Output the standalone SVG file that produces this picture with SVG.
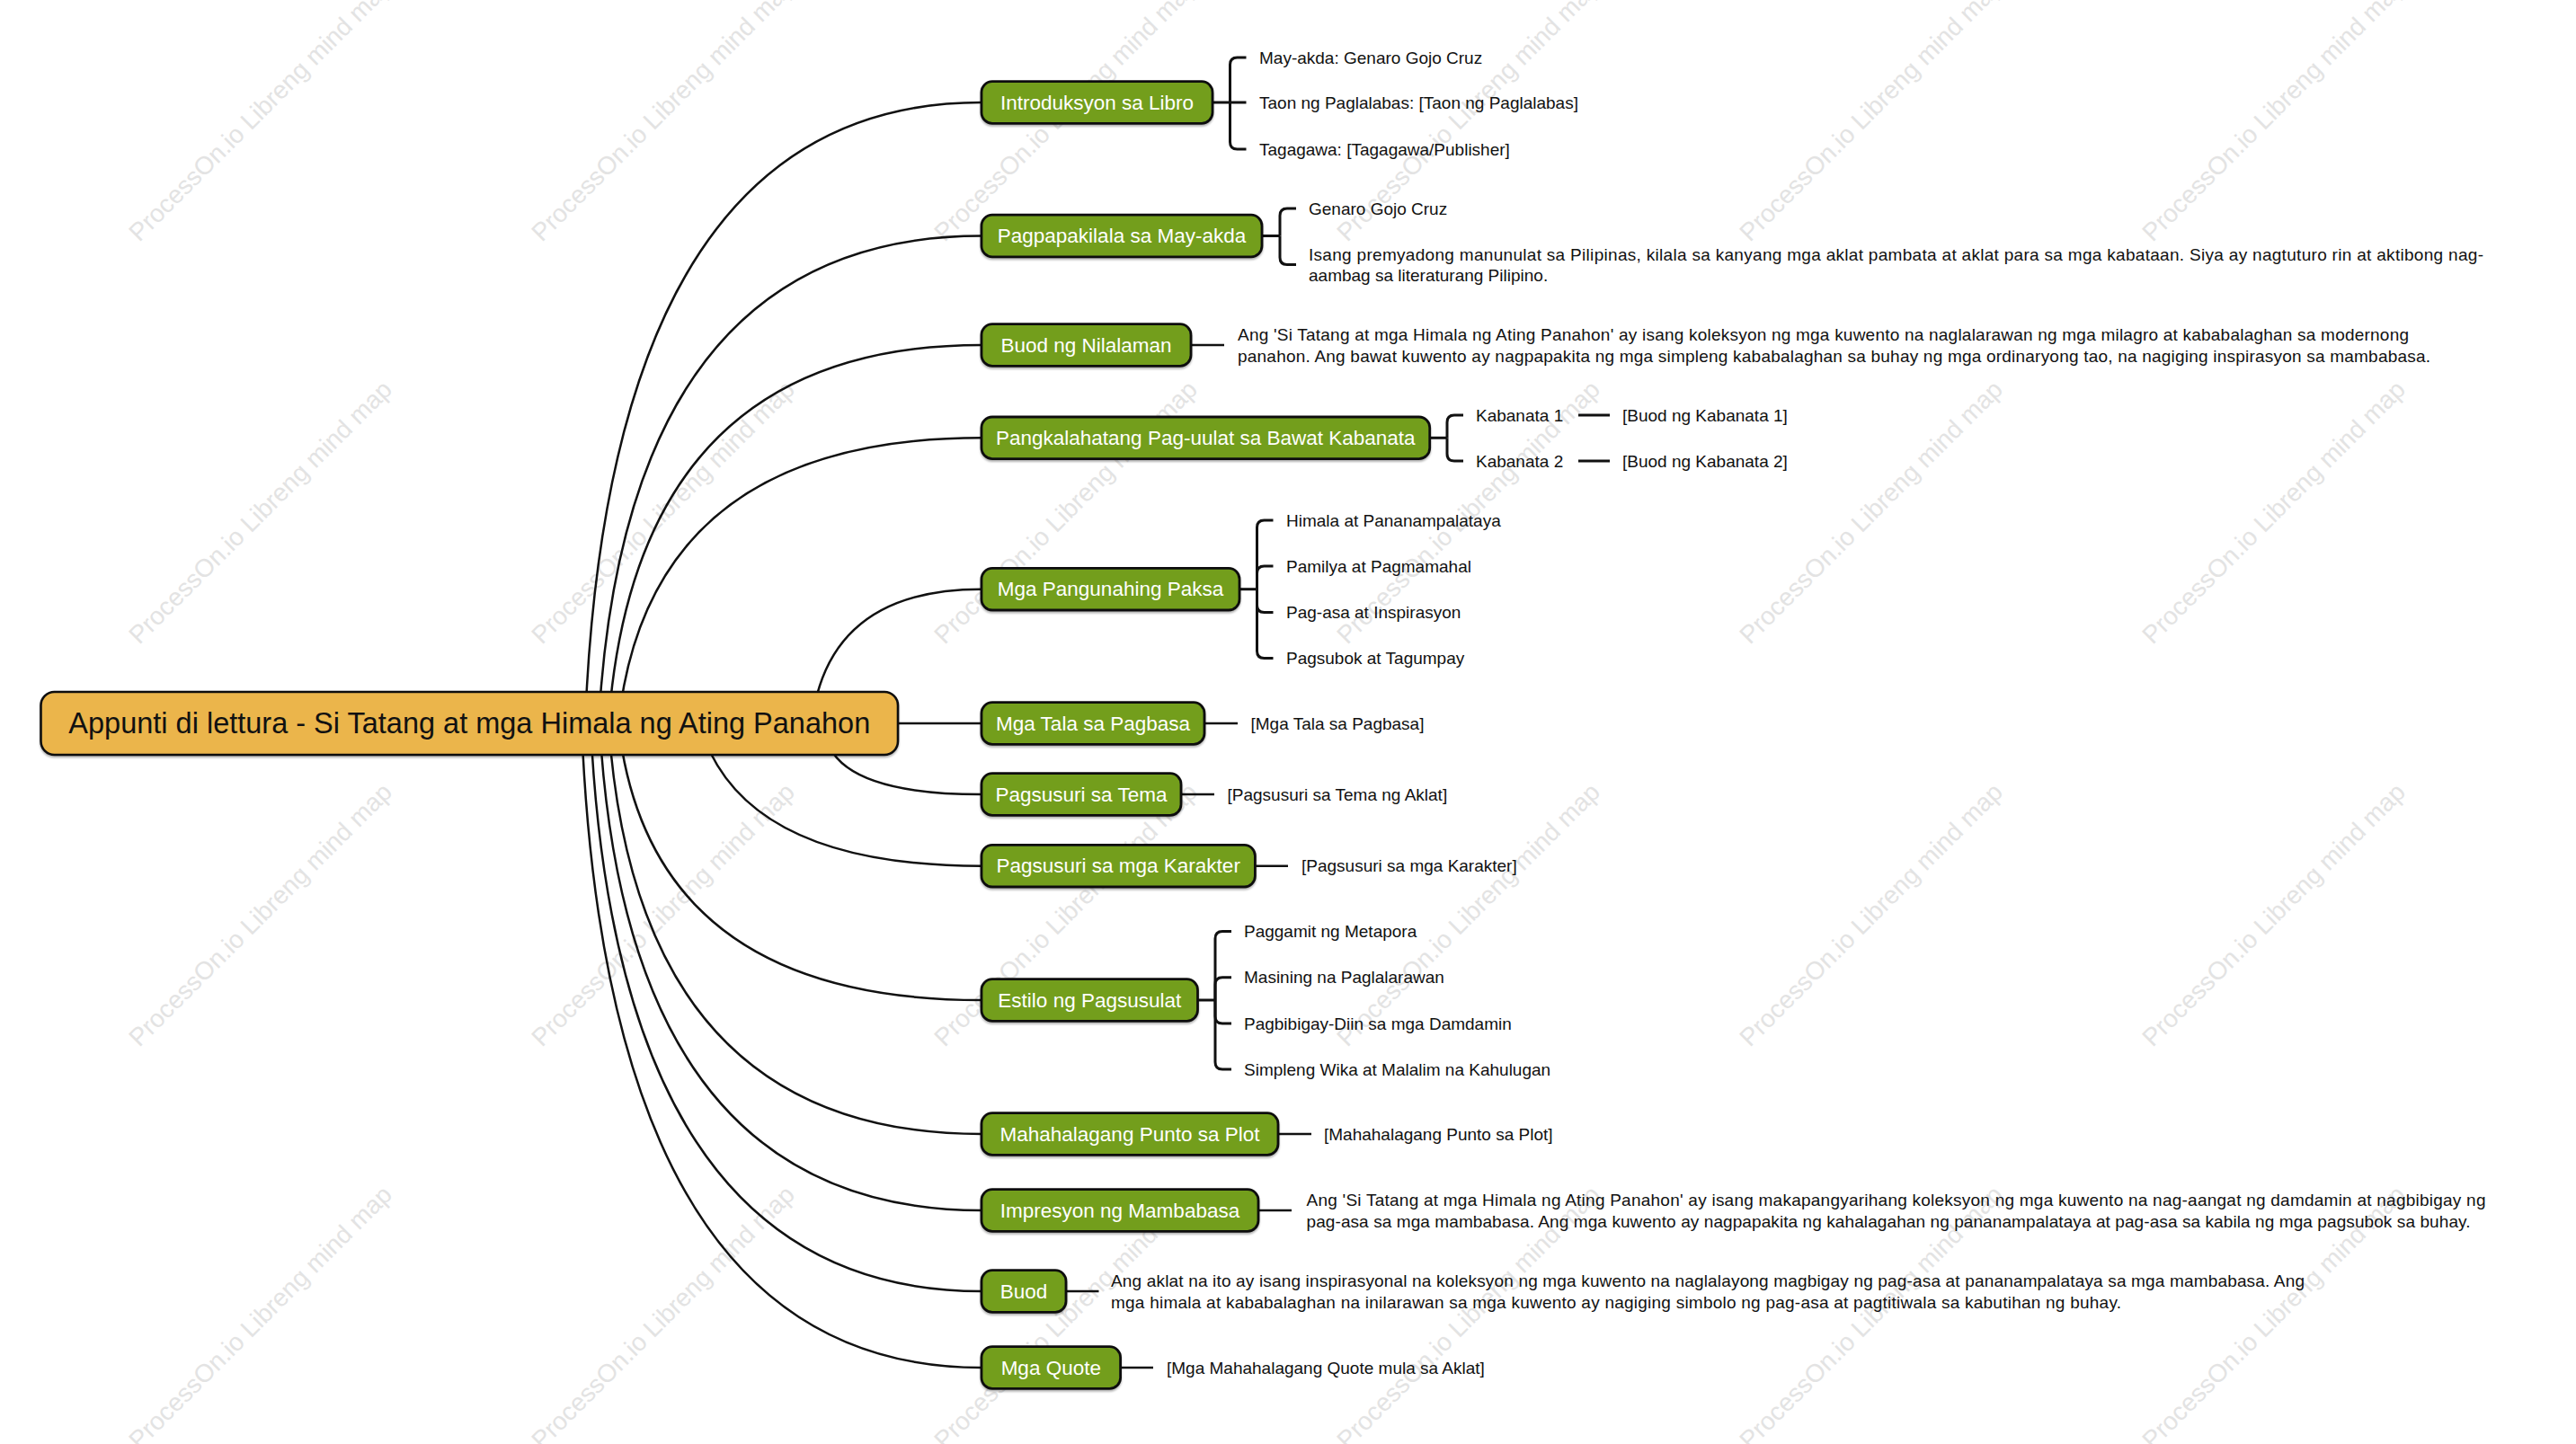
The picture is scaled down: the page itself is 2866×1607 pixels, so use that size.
<svg xmlns="http://www.w3.org/2000/svg" width="2866" height="1607" viewBox="0 0 2866 1607">
<defs>
<filter id="sh" x="-5%" y="-20%" width="110%" height="150%">
<feDropShadow dx="0" dy="2" stdDeviation="1" flood-color="#000" flood-opacity="0.3"/>
</filter>
</defs>
<style>
.wm{font-family:"Liberation Sans",Arial,sans-serif;font-size:28px;fill:#e3e3e3}
.link{fill:none;stroke:#111;stroke-width:2.5}
.br{fill:none;stroke:#111;stroke-width:3}
.sl{fill:none;stroke:#111;stroke-width:2.5}
.node rect{fill:#739E1E;stroke:#111;stroke-width:2.8;filter:url(#sh)}
.node text{font-family:"Liberation Sans",Arial,sans-serif;font-size:22.5px;fill:#fff;text-anchor:middle;dominant-baseline:central}
.root rect{fill:#EBB54B;stroke:#111;stroke-width:2.6;filter:url(#sh)}
.root text{font-family:"Liberation Sans",Arial,sans-serif;font-size:32.5px;fill:#111;text-anchor:middle;dominant-baseline:central}
.leaf{font-family:"Liberation Sans",Arial,sans-serif;font-size:19px;fill:#111;dominant-baseline:central}
</style>
<rect width="2866" height="1607" fill="#fff"/>
<g id="watermarks">
<text class="wm" transform="translate(155,270) rotate(-45)">ProcessOn.io Libreng mind map</text>
<text class="wm" transform="translate(603,270) rotate(-45)">ProcessOn.io Libreng mind map</text>
<text class="wm" transform="translate(1051,270) rotate(-45)">ProcessOn.io Libreng mind map</text>
<text class="wm" transform="translate(1499,270) rotate(-45)">ProcessOn.io Libreng mind map</text>
<text class="wm" transform="translate(1947,270) rotate(-45)">ProcessOn.io Libreng mind map</text>
<text class="wm" transform="translate(2395,270) rotate(-45)">ProcessOn.io Libreng mind map</text>
<text class="wm" transform="translate(155,718) rotate(-45)">ProcessOn.io Libreng mind map</text>
<text class="wm" transform="translate(603,718) rotate(-45)">ProcessOn.io Libreng mind map</text>
<text class="wm" transform="translate(1051,718) rotate(-45)">ProcessOn.io Libreng mind map</text>
<text class="wm" transform="translate(1499,718) rotate(-45)">ProcessOn.io Libreng mind map</text>
<text class="wm" transform="translate(1947,718) rotate(-45)">ProcessOn.io Libreng mind map</text>
<text class="wm" transform="translate(2395,718) rotate(-45)">ProcessOn.io Libreng mind map</text>
<text class="wm" transform="translate(155,1166) rotate(-45)">ProcessOn.io Libreng mind map</text>
<text class="wm" transform="translate(603,1166) rotate(-45)">ProcessOn.io Libreng mind map</text>
<text class="wm" transform="translate(1051,1166) rotate(-45)">ProcessOn.io Libreng mind map</text>
<text class="wm" transform="translate(1499,1166) rotate(-45)">ProcessOn.io Libreng mind map</text>
<text class="wm" transform="translate(1947,1166) rotate(-45)">ProcessOn.io Libreng mind map</text>
<text class="wm" transform="translate(2395,1166) rotate(-45)">ProcessOn.io Libreng mind map</text>
<text class="wm" transform="translate(155,1614) rotate(-45)">ProcessOn.io Libreng mind map</text>
<text class="wm" transform="translate(603,1614) rotate(-45)">ProcessOn.io Libreng mind map</text>
<text class="wm" transform="translate(1051,1614) rotate(-45)">ProcessOn.io Libreng mind map</text>
<text class="wm" transform="translate(1499,1614) rotate(-45)">ProcessOn.io Libreng mind map</text>
<text class="wm" transform="translate(1947,1614) rotate(-45)">ProcessOn.io Libreng mind map</text>
<text class="wm" transform="translate(2395,1614) rotate(-45)">ProcessOn.io Libreng mind map</text>
</g>
<g id="connectors">
<path class="link" d="M651,805 Q678,114 1092,114"/>
<path class="link" d="M666,805 Q696,262.5 1092,262.5"/>
<path class="link" d="M677,805 Q708,384 1092,384"/>
<path class="link" d="M688,805 Q722,487.3 1092,487.3"/>
<path class="link" d="M903,805 Q921,655.7 1092,655.7"/>
<path class="link" d="M990,805 H1092"/>
<path class="link" d="M917,805 Q917,884 1092,884"/>
<path class="link" d="M778,805 Q823,963.7 1092,963.7"/>
<path class="link" d="M688,805 Q722,1113 1092,1113"/>
<path class="link" d="M677,805 Q708,1262 1092,1262"/>
<path class="link" d="M667,805 Q697,1347 1092,1347"/>
<path class="link" d="M657,805 Q686,1437 1092,1437"/>
<path class="link" d="M647,805 Q675,1522 1092,1522"/>
<path class="br" d="M1349,114 H1386.5"/>
<path class="br" d="M1368.5,114 V72 Q1368.5,64 1376.5,64 H1386.5"/>
<path class="br" d="M1368.5,114 V158 Q1368.5,166 1376.5,166 H1386.5"/>
<path class="br" d="M1404,262.5 H1424"/>
<path class="br" d="M1424,262.5 V240 Q1424,232 1432,232 H1442"/>
<path class="br" d="M1424,262.5 V286.5 Q1424,294.5 1432,294.5 H1442"/>
<path class="sl" d="M1325,384 H1362"/>
<path class="br" d="M1590.7,487.3 H1610"/>
<path class="br" d="M1610,487.3 V470 Q1610,462 1618,462 H1628"/>
<path class="br" d="M1610,487.3 V505 Q1610,513 1618,513 H1628"/>
<path class="br" d="M1756,462 H1791"/>
<path class="br" d="M1756,513 H1791"/>
<path class="br" d="M1379,655.7 H1398.5"/>
<path class="br" d="M1398.5,655.7 V587 Q1398.5,579 1406.5,579 H1416.5"/>
<path class="br" d="M1398.5,655.7 V638 Q1398.5,630 1406.5,630 H1416.5"/>
<path class="br" d="M1398.5,655.7 V673.5 Q1398.5,681.5 1406.5,681.5 H1416.5"/>
<path class="br" d="M1398.5,655.7 V724.5 Q1398.5,732.5 1406.5,732.5 H1416.5"/>
<path class="sl" d="M1340,805 H1377"/>
<path class="sl" d="M1314,884 H1351"/>
<path class="sl" d="M1396.4,963.7 H1433"/>
<path class="br" d="M1332.5,1113 H1352"/>
<path class="br" d="M1352,1113 V1044.5 Q1352,1036.5 1360,1036.5 H1370"/>
<path class="br" d="M1352,1113 V1095.8 Q1352,1087.8 1360,1087.8 H1370"/>
<path class="br" d="M1352,1113 V1131 Q1352,1139 1360,1139 H1370"/>
<path class="br" d="M1352,1113 V1182 Q1352,1190 1360,1190 H1370"/>
<path class="sl" d="M1422,1262 H1459"/>
<path class="sl" d="M1400,1347 H1437"/>
<path class="sl" d="M1186,1437 H1222.5"/>
<path class="sl" d="M1246.6,1522 H1283"/>
</g>
<g id="root" class="root">
<rect x="45.5" y="770" width="953.5" height="70" rx="15"/>
<text x="522.3" y="805">Appunti di lettura - Si Tatang at mga Himala ng Ating Panahon</text>
</g>
<g id="n-intro" class="node">
<rect x="1092" y="90.7" width="257" height="46.6" rx="12"/>
<text x="1220.5" y="114">Introduksyon sa Libro</text>
</g>
<g id="n-intro-c">
<text class="leaf" x="1401" y="64">May-akda: Genaro Gojo Cruz</text>
<text class="leaf" x="1401" y="114">Taon ng Paglalabas: [Taon ng Paglalabas]</text>
<text class="leaf" x="1401" y="166">Tagagawa: [Tagagawa/Publisher]</text>
</g>
<g id="n-mayakda" class="node">
<rect x="1092" y="239.2" width="312" height="46.6" rx="12"/>
<text x="1248" y="262.5">Pagpapakilala sa May-akda</text>
</g>
<g id="n-mayakda-c">
<text class="leaf" x="1456" y="232">Genaro Gojo Cruz</text>
<text class="leaf" x="1456" y="283" textLength="1307" lengthAdjust="spacing">Isang premyadong manunulat sa Pilipinas, kilala sa kanyang mga aklat pambata at aklat para sa mga kabataan. Siya ay nagtuturo rin at aktibong nag-</text>
<text class="leaf" x="1456" y="306.5">aambag sa literaturang Pilipino.</text>
</g>
<g id="n-nilalaman" class="node">
<rect x="1092" y="360.7" width="233" height="46.6" rx="12"/>
<text x="1208.5" y="384">Buod ng Nilalaman</text>
</g>
<g id="n-nilalaman-c">
<text class="leaf" x="1377" y="372.5" textLength="1303" lengthAdjust="spacing">Ang 'Si Tatang at mga Himala ng Ating Panahon' ay isang koleksyon ng mga kuwento na naglalarawan ng mga milagro at kababalaghan sa modernong</text>
<text class="leaf" x="1377" y="396" textLength="1327" lengthAdjust="spacing">panahon. Ang bawat kuwento ay nagpapakita ng mga simpleng kababalaghan sa buhay ng mga ordinaryong tao, na nagiging inspirasyon sa mambabasa.</text>
</g>
<g id="n-kabanata" class="node">
<rect x="1092" y="464" width="498.7" height="46.6" rx="12"/>
<text x="1341.3" y="487.3">Pangkalahatang Pag-uulat sa Bawat Kabanata</text>
</g>
<g id="n-kabanata-c">
<text class="leaf" x="1642" y="462">Kabanata 1</text>
<text class="leaf" x="1642" y="513">Kabanata 2</text>
<text class="leaf" x="1805" y="462">[Buod ng Kabanata 1]</text>
<text class="leaf" x="1805" y="513">[Buod ng Kabanata 2]</text>
</g>
<g id="n-paksa" class="node">
<rect x="1092" y="632.4" width="287" height="46.6" rx="12"/>
<text x="1235.5" y="655.7">Mga Pangunahing Paksa</text>
</g>
<g id="n-paksa-c">
<text class="leaf" x="1431" y="579">Himala at Pananampalataya</text>
<text class="leaf" x="1431" y="630">Pamilya at Pagmamahal</text>
<text class="leaf" x="1431" y="681.5">Pag-asa at Inspirasyon</text>
<text class="leaf" x="1431" y="732.5">Pagsubok at Tagumpay</text>
</g>
<g id="n-tala" class="node">
<rect x="1092" y="781.7" width="248" height="46.6" rx="12"/>
<text x="1216" y="805">Mga Tala sa Pagbasa</text>
</g>
<text id="n-tala-c" class="leaf" x="1391.5" y="805">[Mga Tala sa Pagbasa]</text>
<g id="n-tema" class="node">
<rect x="1092" y="860.7" width="222" height="46.6" rx="12"/>
<text x="1203" y="884">Pagsusuri sa Tema</text>
</g>
<text id="n-tema-c" class="leaf" x="1365.5" y="884">[Pagsusuri sa Tema ng Aklat]</text>
<g id="n-karakter" class="node">
<rect x="1092" y="940.4" width="304.4" height="46.6" rx="12"/>
<text x="1244.2" y="963.7">Pagsusuri sa mga Karakter</text>
</g>
<text id="n-karakter-c" class="leaf" x="1448" y="963.7">[Pagsusuri sa mga Karakter]</text>
<g id="n-estilo" class="node">
<rect x="1092" y="1089.7" width="240.5" height="46.6" rx="12"/>
<text x="1212.3" y="1113">Estilo ng Pagsusulat</text>
</g>
<g id="n-estilo-c">
<text class="leaf" x="1384" y="1036.5">Paggamit ng Metapora</text>
<text class="leaf" x="1384" y="1087.8">Masining na Paglalarawan</text>
<text class="leaf" x="1384" y="1139">Pagbibigay-Diin sa mga Damdamin</text>
<text class="leaf" x="1384" y="1190">Simpleng Wika at Malalim na Kahulugan</text>
</g>
<g id="n-plot" class="node">
<rect x="1092" y="1238.7" width="330" height="46.6" rx="12"/>
<text x="1257" y="1262">Mahahalagang Punto sa Plot</text>
</g>
<text id="n-plot-c" class="leaf" x="1473" y="1262">[Mahahalagang Punto sa Plot]</text>
<g id="n-impresyon" class="node">
<rect x="1092" y="1323.7" width="308" height="46.6" rx="12"/>
<text x="1246" y="1347">Impresyon ng Mambabasa</text>
</g>
<g id="n-impresyon-c">
<text class="leaf" x="1453.5" y="1335.5" textLength="1312" lengthAdjust="spacing">Ang 'Si Tatang at mga Himala ng Ating Panahon' ay isang makapangyarihang koleksyon ng mga kuwento na nag-aangat ng damdamin at nagbibigay ng</text>
<text class="leaf" x="1453.5" y="1359" textLength="1295" lengthAdjust="spacing">pag-asa sa mga mambabasa. Ang mga kuwento ay nagpapakita ng kahalagahan ng pananampalataya at pag-asa sa kabila ng mga pagsubok sa buhay.</text>
</g>
<g id="n-buod" class="node">
<rect x="1092" y="1413.7" width="94" height="46.6" rx="12"/>
<text x="1139" y="1437">Buod</text>
</g>
<g id="n-buod-c">
<text class="leaf" x="1236" y="1425.5" textLength="1328" lengthAdjust="spacing">Ang aklat na ito ay isang inspirasyonal na koleksyon ng mga kuwento na naglalayong magbigay ng pag-asa at pananampalataya sa mga mambabasa. Ang</text>
<text class="leaf" x="1236" y="1449" textLength="1124" lengthAdjust="spacing">mga himala at kababalaghan na inilarawan sa mga kuwento ay nagiging simbolo ng pag-asa at pagtitiwala sa kabutihan ng buhay.</text>
</g>
<g id="n-quote" class="node">
<rect x="1092" y="1498.7" width="154.6" height="46.6" rx="12"/>
<text x="1169.3" y="1522">Mga Quote</text>
</g>
<text id="n-quote-c" class="leaf" x="1298" y="1522">[Mga Mahahalagang Quote mula sa Aklat]</text>
</svg>
